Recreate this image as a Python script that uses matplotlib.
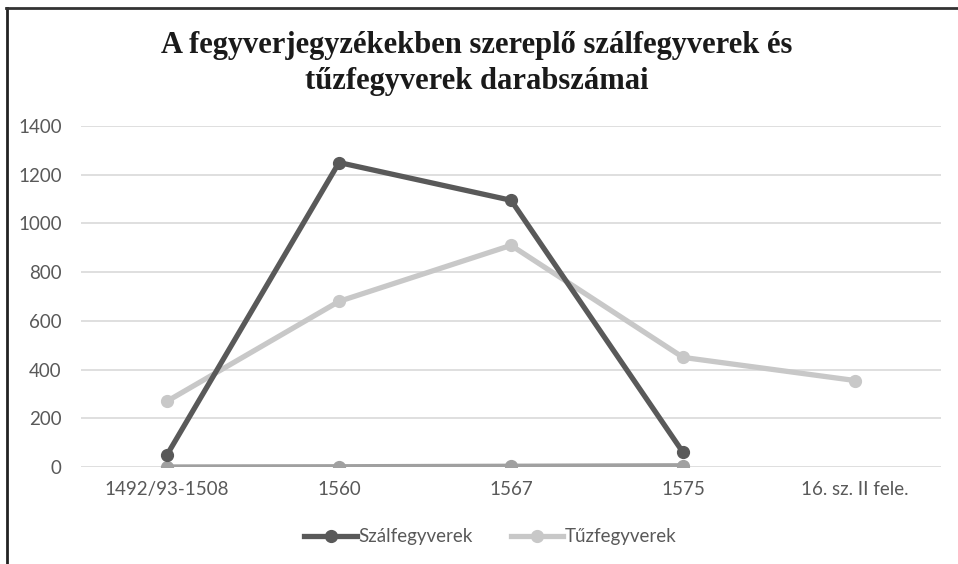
import matplotlib
matplotlib.use("Agg")
import matplotlib.pyplot as plt
from matplotlib.lines import Line2D

categories = ["1492/93-1508", "1560", "1567", "1575", "16. sz. II fele."]
szal = [50, 1250, 1095, 60, None]
tuz = [270, 680, 910, 450, 355]
third = [0, 1, 3, 5, None]
yticks = [0, 200, 400, 600, 800, 1000, 1200, 1400]

title = "A fegyverjegyzékekben szereplő szálfegyverek és\ntűzfegyverek darabszámai"

plt.rcParams['font.family'] = ['Lato', 'DejaVu Sans']

fig = plt.figure(figsize=(9.58, 5.64), dpi=100)
ax = fig.add_axes([0.0846, 0.172, 0.8977, 0.6046])

x = list(range(len(categories)))

def pts(vals):
    xs = [i for i, v in enumerate(vals) if v is not None]
    ys = [v for v in vals if v is not None]
    return xs, ys

xs, ys = pts(third)
ax.plot(xs, ys, color="#a0a0a0", lw=3.8, marker="o", ms=8.5, zorder=3)
xs, ys = pts(tuz)
ax.plot(xs, ys, color="#c8c8c8", lw=3.8, marker="o", ms=8.5, zorder=3, label="Tűzfegyverek")
xs, ys = pts(szal)
ax.plot(xs, ys, color="#595959", lw=3.8, marker="o", ms=8.5, zorder=4, label="Szálfegyverek")

ax.set_xlim(-0.5, len(categories) - 0.5)
ax.set_ylim(0, 1400)
ax.set_yticks(yticks)
ax.set_xticks(x)
ax.set_xticklabels(categories)
ax.grid(axis="y", color="#d9d9d9", lw=1.2)
ax.set_axisbelow(True)
for s in ax.spines.values():
    s.set_visible(False)
ax.tick_params(length=0, labelsize=13.5, labelcolor="#595959", pad=10)
ax.tick_params(axis="y", pad=14)

handles, labels = ax.get_legend_handles_labels()
order = [1, 0]
leg = fig.legend([handles[i] for i in order], [labels[i] for i in order],
                 loc="center", bbox_to_anchor=(0.512, 0.048), ncol=2, frameon=False,
                 fontsize=13.5, handlelength=2.8, handletextpad=0.1, columnspacing=2.0)
for t in leg.get_texts():
    t.set_color("#595959")

fig.text(0.498, 0.887, title, ha="center", va="center", family="Liberation Serif",
         fontweight="bold", fontsize=22, color="#1a1a1a", linespacing=1.32)

fig.add_artist(Line2D([0.007, 0.007], [0, 0.985], transform=fig.transFigure, color="#222222", lw=2))
fig.add_artist(Line2D([0.006, 1.0], [0.985, 0.985], transform=fig.transFigure, color="#333333", lw=2))

fig.savefig("out.png", dpi=100)
